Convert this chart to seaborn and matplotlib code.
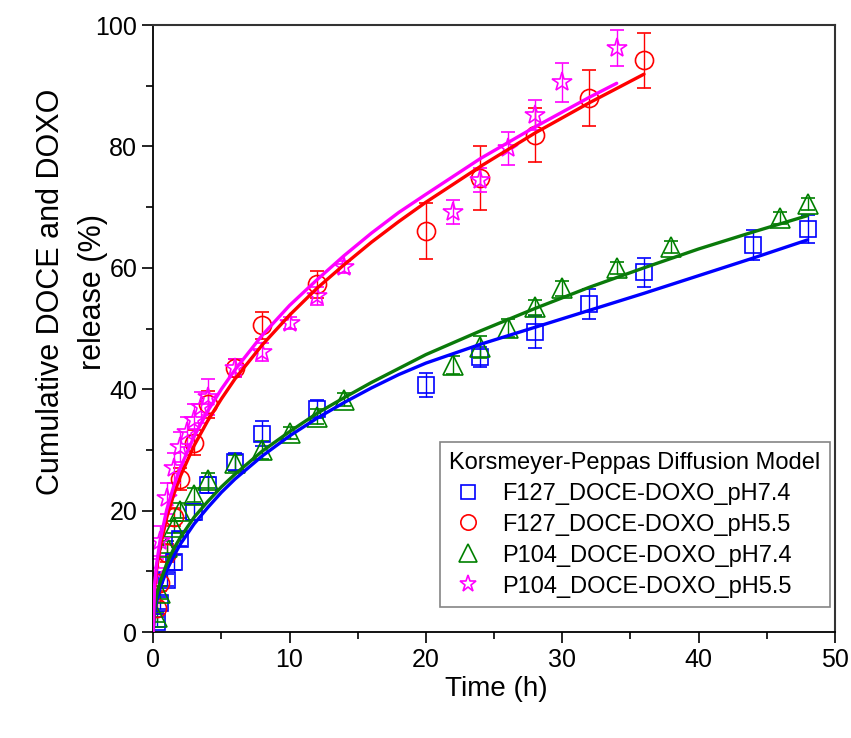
import matplotlib.pyplot as plt
import seaborn as sns
from matplotlib.lines import Line2D
from matplotlib.ticker import MultipleLocator

# measured release points: time (h), cumulative release (%), error (+/-)
t_f127_74 = [0.25, 0.5, 1, 1.5, 2, 3, 4, 6, 8, 12, 20, 24, 28, 32, 36, 44, 48]
y_f127_74 = [1.6, 4.8, 8.6, 11.5, 15.3, 19.8, 24.2, 28.0, 32.7, 36.7, 40.7,
             45.3, 49.4, 54.0, 59.3, 63.8, 66.4]
e_f127_74 = [0.8, 1.0, 1.0, 1.2, 1.2, 1.3, 1.3, 1.5, 2.0, 1.5, 1.9,
             1.6, 2.6, 2.5, 2.4, 2.5, 2.3]

t_f127_55 = [0.25, 0.5, 1, 1.5, 2, 3, 4, 6, 8, 12, 20, 24, 28, 32, 36]
y_f127_55 = [4.0, 8.0, 13.0, 19.0, 25.2, 31.2, 37.5, 43.5, 50.5, 57.3,
             66.0, 74.8, 81.9, 88.0, 94.2]
e_f127_55 = [1.0, 1.2, 1.5, 1.5, 1.8, 2.0, 2.2, 1.5, 2.3, 2.2,
             4.6, 5.2, 4.5, 4.6, 4.5]

t_p104_74 = [0.25, 0.5, 1, 1.5, 2, 3, 4, 6, 8, 10, 12, 14, 22, 24, 26, 28,
             30, 34, 38, 46, 48]
y_p104_74 = [2.5, 6.5, 14.0, 17.3, 20.0, 22.6, 25.0, 27.8, 30.0, 32.8, 35.5,
             38.3, 44.0, 47.0, 50.1, 53.5, 56.6, 60.0, 63.5, 68.2, 70.5]
e_p104_74 = [0.8, 1.0, 1.0, 1.0, 1.2, 1.2, 1.2, 1.3, 1.5, 1.0, 1.2,
             1.0, 1.5, 1.8, 1.5, 1.2, 1.2, 1.0, 1.0, 1.0, 1.0]

t_p104_55 = [0.25, 0.5, 1, 1.5, 2, 2.5, 3, 3.5, 4, 6, 8, 10, 12, 14, 22, 24,
             26, 28, 30, 34]
y_p104_55 = [10.0, 15.0, 22.0, 27.0, 30.5, 33.0, 35.0, 37.0, 38.7, 43.5,
             46.1, 50.9, 55.3, 60.1, 69.2, 74.5, 79.7, 85.2, 90.6, 96.2]
e_p104_55 = [2.0, 2.5, 2.5, 2.5, 2.5, 2.5, 2.5, 2.5, 3.0, 1.5,
             1.5, 1.0, 1.5, 1.0, 2.0, 2.0, 2.7, 2.5, 3.2, 3.0]

# Korsmeyer-Peppas fit curves
t_fit = [0, 0.1, 0.25, 0.5, 1, 1.5, 2, 3, 4, 5, 6, 8, 10, 12, 14, 16, 18,
         20, 24, 28, 32, 36, 40, 44, 48]
fit_f127_74 = [0, 3.2, 5.0, 7.2, 10.2, 12.5, 14.5, 17.8, 20.5, 23.0, 25.2,
               29.0, 32.3, 35.2, 37.8, 40.2, 42.4, 44.3, 47.4, 50.2, 53.0,
               55.8, 58.7, 61.6, 64.6]
fit_f127_55 = [0, 6.8, 10.3, 13.9, 18.9, 22.6, 25.7, 30.7, 34.8, 38.4, 41.7,
               47.3, 52.2, 56.6, 60.5, 64.2, 67.6, 70.8, 76.7, 82.2, 87.2,
               91.9]
fit_p104_74 = [0, 3.9, 5.9, 8.2, 11.3, 13.7, 15.6, 18.9, 21.5, 23.9, 26.0,
               29.8, 33.0, 36.0, 38.6, 41.1, 43.4, 45.7, 49.6, 53.3, 56.8,
               60.0, 63.1, 65.9, 68.6]
t_fit_p104_55 = [0, 0.1, 0.25, 0.5, 1, 1.5, 2, 3, 4, 5, 6, 8, 10, 12, 14,
                 16, 18, 20, 24, 28, 32, 34]
fit_p104_55 = [0, 7.6, 11.2, 15.0, 20.2, 24.0, 27.1, 32.2, 36.4, 40.0, 43.2,
               48.9, 53.8, 58.0, 62.0, 65.7, 69.1, 72.1, 78.0, 83.2, 88.1,
               90.4]

labels = ["F127_DOCE-DOXO_pH7.4", "F127_DOCE-DOXO_pH5.5",
          "P104_DOCE-DOXO_pH7.4", "P104_DOCE-DOXO_pH5.5"]
colors = ["#0000ff", "#ff0000", "#008000", "#ff00ff"]
line_colors = ["#0000ff", "#ff0000", "#0a7a0a", "#ff00ff"]
markers = ["s", "o", "^", "*"]
msizes = [12, 13, 15, 15]


def main():
    sns.set_theme(style="ticks")
    plt.rcParams["font.family"] = ["Liberation Sans", "DejaVu Sans"]
    for key in ["text.color", "axes.labelcolor", "xtick.color", "ytick.color"]:
        plt.rcParams[key] = "black"

    fig = plt.figure(figsize=(8.51, 7.38), dpi=100)
    ax = fig.add_axes([0.18, 0.1436, 0.801, 0.8225])

    points = [
        (t_f127_74, y_f127_74, e_f127_74),
        (t_f127_55, y_f127_55, e_f127_55),
        (t_p104_74, y_p104_74, e_p104_74),
        (t_p104_55, y_p104_55, e_p104_55),
    ]
    for (t, y, e), c, m, ms in zip(points, colors, markers, msizes):
        ax.errorbar(t, y, yerr=e, fmt=m, ms=ms, mfc="none", mec=c,
                    mew=1.2, ecolor=c, elinewidth=1.0, capsize=5,
                    capthick=1.0, zorder=2)

    fits = [
        (t_fit, fit_f127_74),
        (t_fit[:len(fit_f127_55)], fit_f127_55),
        (t_fit, fit_p104_74),
        (t_fit_p104_55, fit_p104_55),
    ]
    for (t, y), c in zip(fits, line_colors):
        sns.lineplot(x=t, y=y, color=c, linewidth=2.4, ax=ax, zorder=3)

    ax.set_xlim(0, 50)
    ax.set_ylim(0, 100)
    ax.xaxis.set_major_locator(MultipleLocator(10))
    ax.xaxis.set_minor_locator(MultipleLocator(5))
    ax.yaxis.set_major_locator(MultipleLocator(20))
    ax.yaxis.set_minor_locator(MultipleLocator(10))
    ax.tick_params(which="major", length=8, width=1.2, direction="out",
                   color="black", labelsize=18)
    ax.tick_params(which="minor", length=5, width=1.2, direction="out")
    for side in ["left", "bottom"]:
        ax.spines[side].set_linewidth(1.3)
        ax.spines[side].set_color("black")
    for side in ["top", "right"]:
        ax.spines[side].set_linewidth(1.5)
        ax.spines[side].set_color("#333333")

    ax.set_xlabel("Time (h)", fontsize=20)
    ax.set_ylabel("Cumulative DOCE and DOXO\nrelease (%)", fontsize=22,
                  linespacing=1.55)
    ax.xaxis.set_label_coords(0.504, -0.072)
    ax.yaxis.set_label_coords(-0.066, 0.56)

    handles = [
        Line2D([], [], marker=m, ls="none", mfc="none", mec=c, mew=1.2,
               ms=ms * 0.85)
        for c, m, ms in zip(colors, markers, msizes)
    ]
    leg = ax.legend(handles, labels, title="Korsmeyer-Peppas Diffusion Model",
                    loc="lower right", bbox_to_anchor=(0.9927, 0.041),
                    fontsize=17, title_fontsize=17, fancybox=False,
                    frameon=True, edgecolor="#666666", borderaxespad=0,
                    handletextpad=0.65, labelspacing=0.38, borderpad=0.4,
                    handlelength=1.6, alignment="left")
    leg.get_frame().set_linewidth(1.2)

    fig.savefig("out.png", dpi=100, facecolor="white")


if __name__ == "__main__":
    main()
